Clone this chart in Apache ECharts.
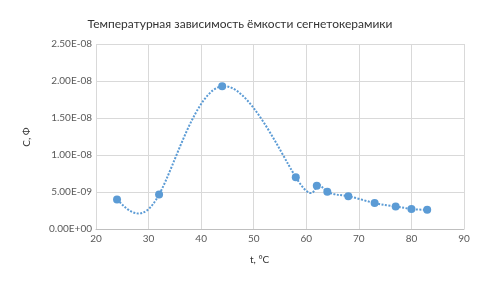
<!DOCTYPE html>
<html><head><meta charset="utf-8">
<script src="https://cdn.jsdelivr.net/npm/echarts@6/dist/echarts.min.js"></script>
<style>html,body{margin:0;padding:0;background:#fff}#c{width:480px;height:288px}</style>
</head><body><div id="c"></div>
<script>
const titleText = 'Температурная зависимость ёмкости сегнетокерамики';
const xName = 't, °C';
const yName = 'С, Ф';
const temps = [24, 32, 44, 58, 62, 64, 68, 73, 77, 80, 83];
const caps = [4.0e-9, 4.65e-9, 1.93e-8, 7.0e-9, 5.85e-9, 5.05e-9, 4.42e-9, 3.5e-9, 3.05e-9, 2.7e-9, 2.6e-9];
const xTicks = [20, 30, 40, 50, 60, 70, 80, 90];
const yTicks = [0, 5e-9, 1e-8, 1.5e-8, 2e-8, 2.5e-8];

function fmtExp(v){
  if (v === 0) return '0.00E+00';
  let s = v.toExponential(2).toUpperCase();
  let [m, e] = s.split('E');
  let sign = e[0]; let d = e.slice(1);
  if (d.length < 2) d = '0' + d;
  return m + 'E' + sign + d;
}
// natural cubic spline second derivatives over parameter ts
function splineM(ts, vs){
  const n = ts.length, h = [];
  for (let i=0;i<n-1;i++) h.push(ts[i+1]-ts[i]);
  const a=new Array(n).fill(0), b=new Array(n).fill(1), c=new Array(n).fill(0), r=new Array(n).fill(0);
  for (let i=1;i<n-1;i++){
    a[i]=h[i-1]; b[i]=2*(h[i-1]+h[i]); c[i]=h[i];
    r[i]=6*((vs[i+1]-vs[i])/h[i]-(vs[i]-vs[i-1])/h[i-1]);
  }
  for (let i=1;i<n;i++){ const m=a[i]/b[i-1]; b[i]-=m*c[i-1]; r[i]-=m*r[i-1]; }
  const M=new Array(n).fill(0);
  M[n-1]=r[n-1]/b[n-1];
  for (let i=n-2;i>=0;i--) M[i]=(r[i]-c[i]*M[i+1])/b[i];
  return M;
}
// smoothed line: parametric natural cubic spline (uniform parameter) through the data points in pixel space
function renderSmooth(params, api){
  const P = temps.map((t,i)=>api.coord([t, caps[i]]));
  const X = P.map(p=>p[0]), Y = P.map(p=>p[1]);
  const T = P.map((p,i)=>i);
  const MX = splineM(T, X), MY = splineM(T, Y);
  const der = (V, M, i) => {
    const h=T[i+1]-T[i], s=(V[i+1]-V[i])/h;
    return [s-h*(2*M[i]+M[i+1])/6, s+h*(M[i]+2*M[i+1])/6];
  };
  let d = 'M'+X[0]+' '+Y[0];
  for (let i=0;i<P.length-1;i++){
    const h=T[i+1]-T[i];
    const dx=der(X,MX,i), dy=der(Y,MY,i);
    d += ' C'+(X[i]+h/3*dx[0])+' '+(Y[i]+h/3*dy[0])+' '+(X[i+1]-h/3*dx[1])+' '+(Y[i+1]-h/3*dy[1])+' '+X[i+1]+' '+Y[i+1];
  }
  return {type:'path', shape:{pathData:d}, style:{fill:'none', stroke:'#5b9bd5', lineWidth:2, lineDash:[2,1.5]}};
}
const chart = echarts.init(document.getElementById('c'), null, {renderer:'canvas'});
const font = 'Lato';
chart.setOption({
  animation:false,
  title:{text:titleText,left:'center',top:13,textStyle:{fontFamily:font,fontSize:12,fontWeight:'normal',color:'#333'}},
  grid:{left:96,right:16,top:44,bottom:59},
  xAxis:{type:'value',min:xTicks[0],max:xTicks[xTicks.length-1],interval:10,
    axisLine:{show:true,lineStyle:{color:'#bfbfbf'}},axisTick:{show:false},
    axisLabel:{fontFamily:font,fontSize:10,color:'#595959',margin:5},
    splitLine:{show:true,lineStyle:{color:'#d9d9d9'}}},
  yAxis:{type:'value',min:yTicks[0],max:yTicks[yTicks.length-1],interval:5e-9,
    axisLine:{show:false},axisTick:{show:false},
    axisLabel:{fontFamily:font,fontSize:10,color:'#595959',margin:4,formatter:fmtExp},
    splitLine:{show:true,lineStyle:{color:'#d9d9d9'}}},
  graphic:[
    {type:'text',left:250,top:255,style:{text:xName,fontFamily:font,fontSize:10,fill:'#333'}},
    {type:'text',x:27,y:137,rotation:Math.PI/2,style:{text:yName,fontFamily:font,fontSize:10,fill:'#333',align:'center',verticalAlign:'middle'}}
  ],
  series:[
    {type:'custom',coordinateSystem:'cartesian2d',data:[[temps[0],caps[0]]],renderItem:renderSmooth,silent:true,z:2},
    {type:'scatter',data:temps.map((t,i)=>[t,caps[i]]),symbol:'circle',symbolSize:8,itemStyle:{color:'#5b9bd5',opacity:1},z:3}
  ]
});
</script></body></html>
